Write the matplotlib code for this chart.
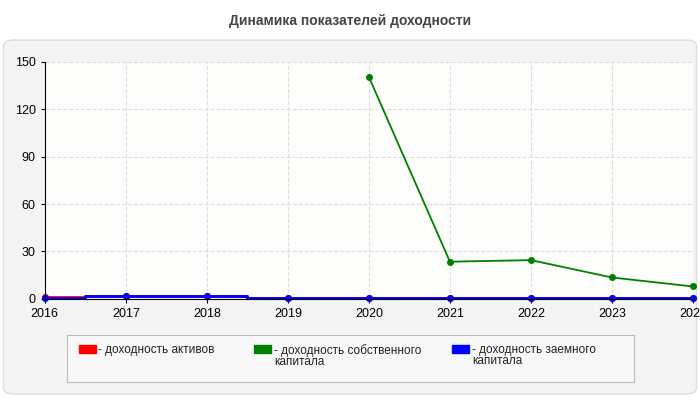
import matplotlib
matplotlib.use("Agg")
import matplotlib.pyplot as plt
from matplotlib.patches import FancyBboxPatch
import numpy as np

years = [2016, 2017, 2018, 2019, 2020, 2021, 2022, 2023, 2024]
assets = [1.2, 2.0, 1.5, 0.7, 0.7, 0.7, 0.7, 0.7, 0.7]
equity_years = [2020, 2021, 2022, 2023, 2024]
equity = [140.5, 23.5, 24.5, 13.5, 7.8]
debt = [0.8, 1.5, 1.5, 0.7, 0.7, 0.7, 0.7, 0.7, 0.7]
yticks = [0, 30, 60, 90, 120, 150]

fig = plt.figure(figsize=(7, 4), dpi=100)
fig.patch.set_facecolor("white")
panel = FancyBboxPatch((0.005, 0.015), 0.99, 0.885, boxstyle="round,pad=0,rounding_size=0.015",
                       transform=fig.transFigure, facecolor="#f4f4f4", edgecolor="#dddddd", lw=1,
                       zorder=-10)
fig.patches.append(panel)
fig.text(0.5, 0.948, "Динамика показателей доходности", ha="center", va="center",
         fontsize=10, fontweight="bold", color="#444444", family="Liberation Sans")

ax = fig.add_axes([0.064, 0.253, 0.926, 0.592])
ax.set_facecolor("#fdfdfb")
ax.plot(years, assets, color="red", lw=2, drawstyle="steps-mid", marker="o", ms=4, clip_on=False)
ax.plot(equity_years, equity, color="green", lw=1.3, marker="o", ms=4, clip_on=False)
ax.plot(years, debt, color="blue", lw=2, drawstyle="steps-mid", marker="o", ms=4, clip_on=False)
ax.set_xlim(2016, 2024)
ax.set_ylim(0, 150)
ax.set_xticks(years)
ax.set_yticks(yticks)
ax.grid(color="#dddddd", ls="--", lw=0.8)
ax.tick_params(labelsize=9, length=3)
for s in ["top", "right"]:
    ax.spines[s].set_visible(False)
for lbl in ax.get_xticklabels() + ax.get_yticklabels():
    lbl.set_family("Liberation Sans")

lax = fig.add_axes([0.096, 0.045, 0.809, 0.118])
lax.set_xlim(0, 1); lax.set_ylim(0, 1)
lax.set_xticks([]); lax.set_yticks([])
lax.set_facecolor("#f8f8f8")
for s in lax.spines.values():
    s.set_color("#bbbbbb")
items = [("red", "- доходность активов", 0.02),
         ("green", "- доходность собственного\nкапитала", 0.33),
         ("blue", "- доходность заемного\nкапитала", 0.68)]
for c, t, x in items:
    lax.add_patch(plt.Rectangle((x, 0.62), 0.03, 0.16, color=c))
    lax.text(x + 0.035, 0.8, t, va="top", fontsize=8.5, family="Liberation Sans", color="#222222", linespacing=0.9)

fig.savefig("out.png", dpi=100)
